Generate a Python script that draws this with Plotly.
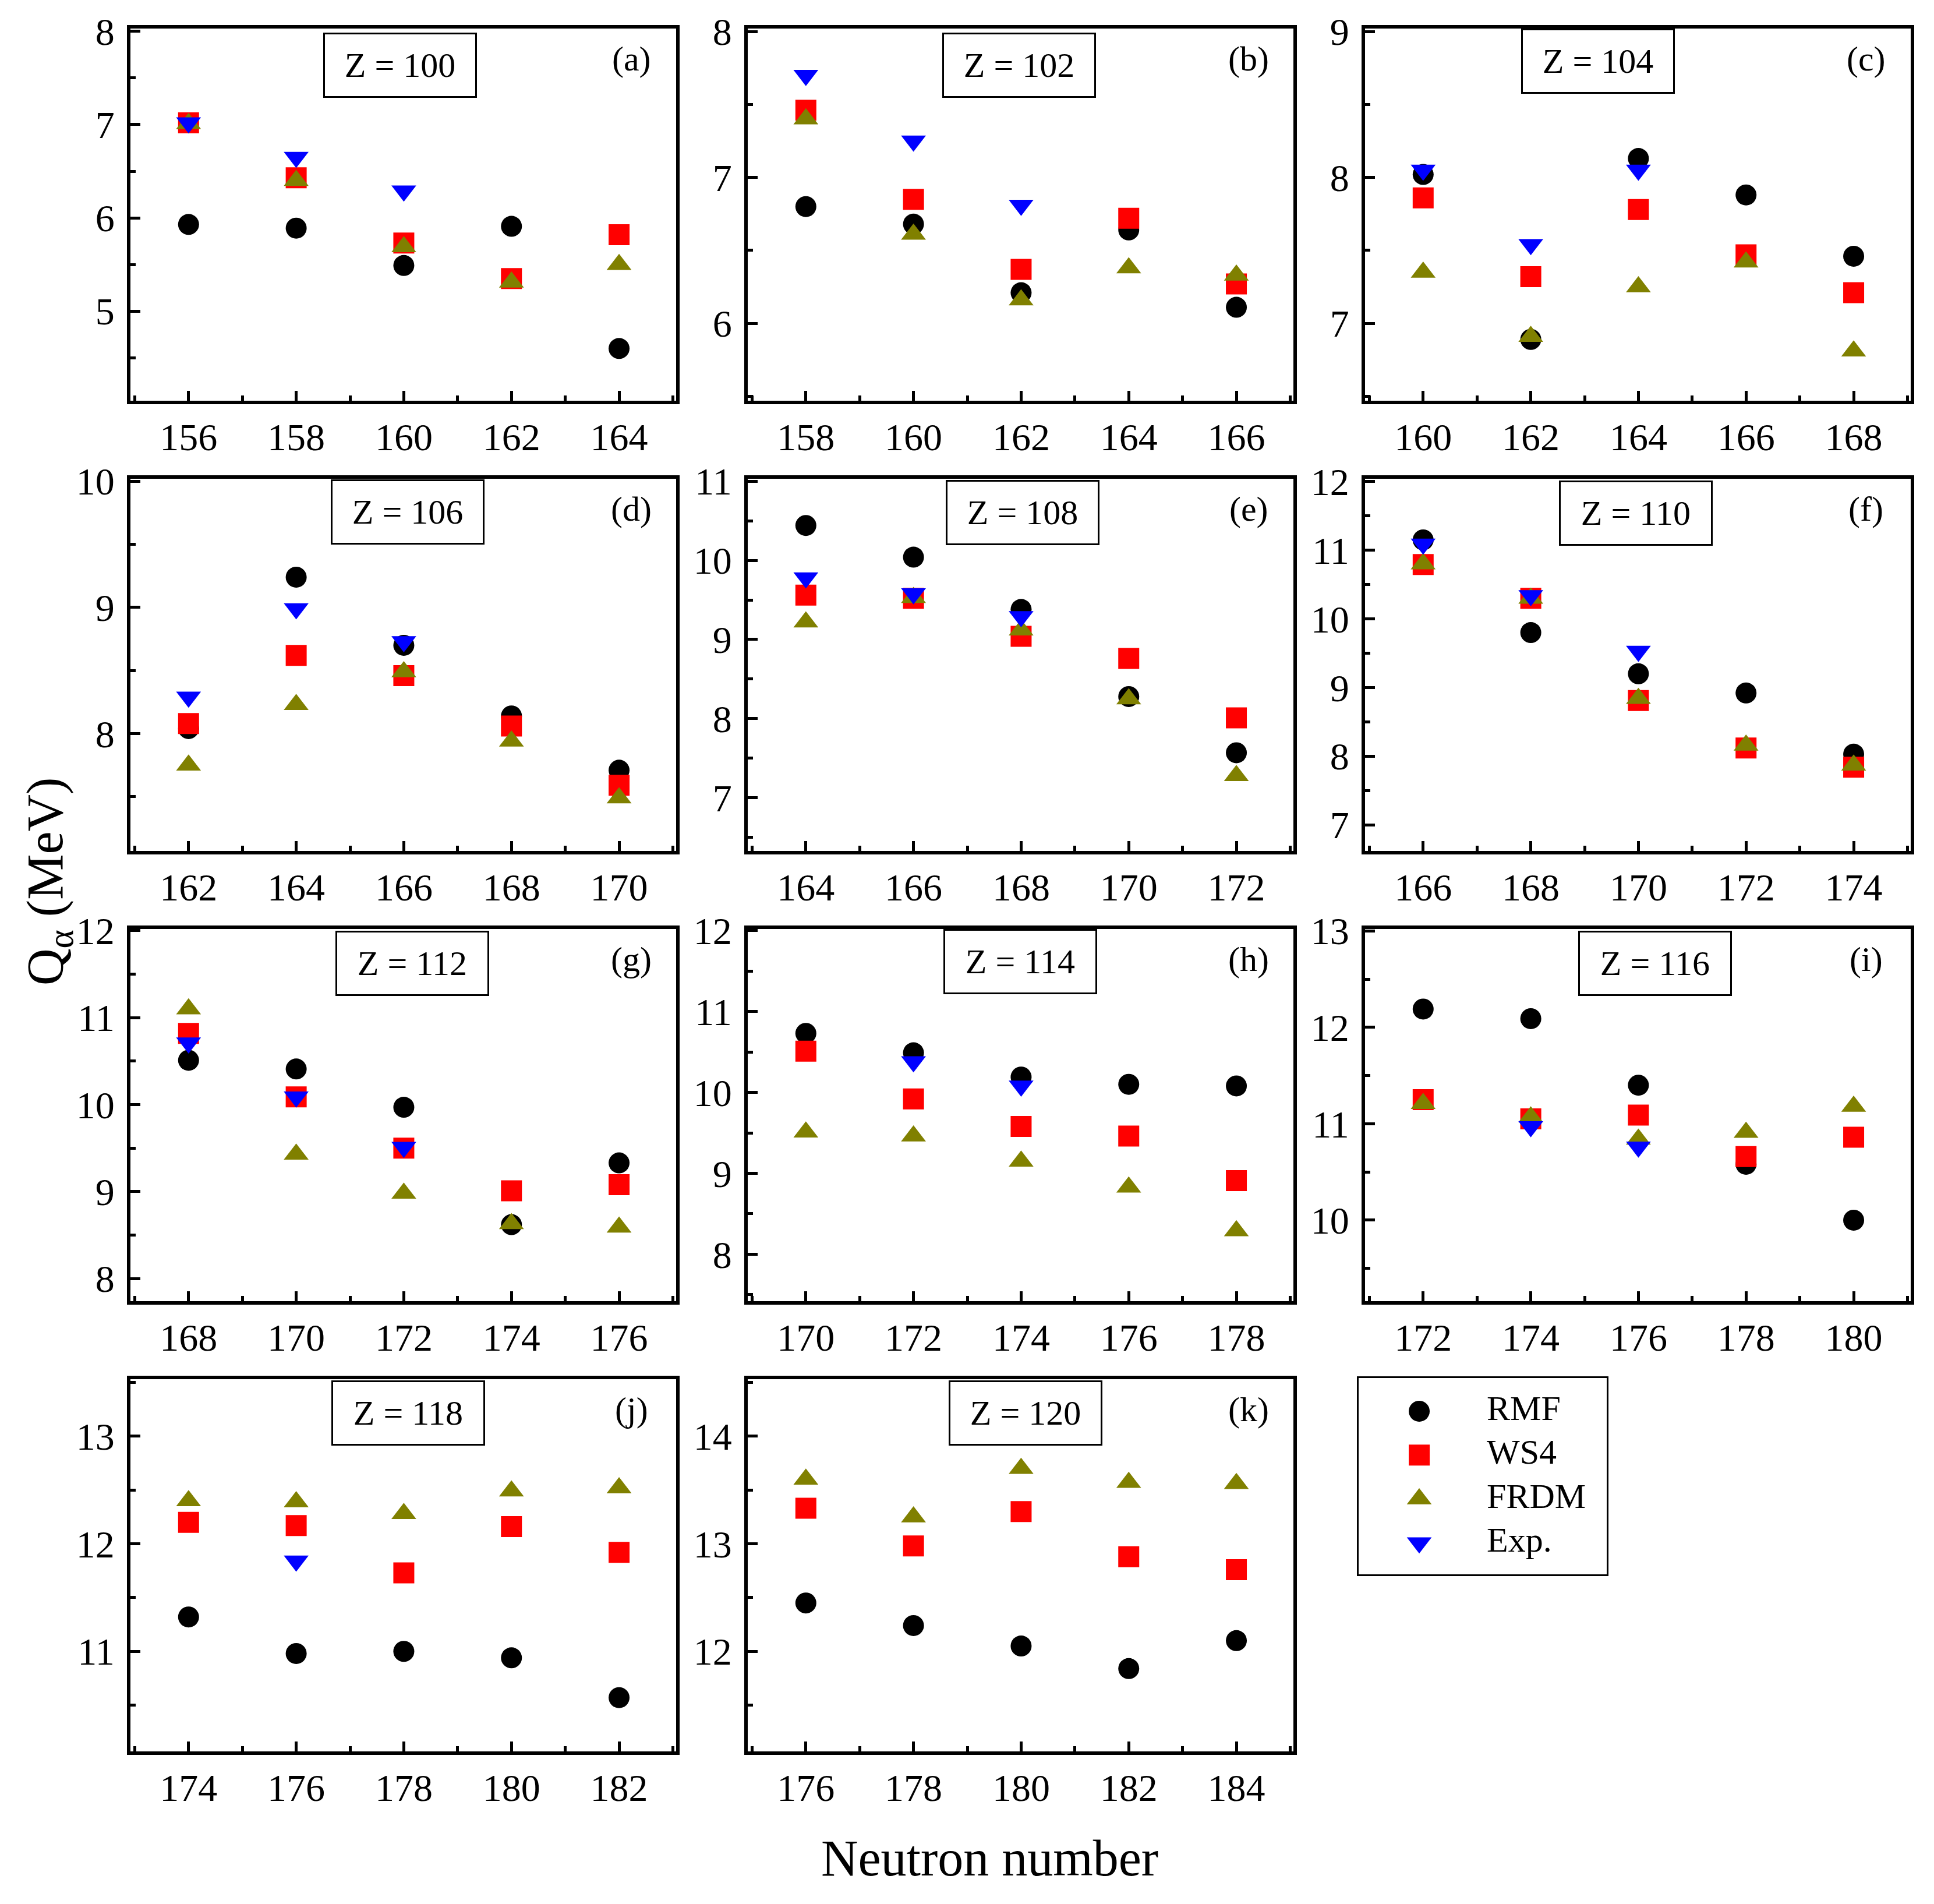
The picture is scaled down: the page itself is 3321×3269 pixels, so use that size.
import plotly.graph_objects as go

FONT = "Liberation Serif"
W, H = 3321, 3269

# ---- data (Q_alpha in MeV) ----
Z_NUMBERS = [100, 102, 104, 106, 108, 110, 112, 114, 116, 118, 120]
PANEL_TAGS = ["(a)", "(b)", "(c)", "(d)", "(e)", "(f)", "(g)", "(h)", "(i)", "(j)", "(k)"]
NEUTRONS = [
    [156, 158, 160, 162, 164],
    [158, 160, 162, 164, 166],
    [160, 162, 164, 166, 168],
    [162, 164, 166, 168, 170],
    [164, 166, 168, 170, 172],
    [166, 168, 170, 172, 174],
    [168, 170, 172, 174, 176],
    [170, 172, 174, 176, 178],
    [172, 174, 176, 178, 180],
    [174, 176, 178, 180, 182],
    [176, 178, 180, 182, 184],
]
RMF = [
    [5.93, 5.89, 5.49, 5.91, 4.60],
    [6.80, 6.68, 6.21, 6.64, 6.11],
    [8.02, 6.89, 8.13, 7.88, 7.46],
    [8.04, 9.24, 8.70, 8.14, 7.71],
    [10.44, 10.04, 9.38, 8.28, 7.57],
    [11.15, 9.80, 9.20, 8.92, 8.03],
    [10.51, 10.41, 9.97, 8.62, 9.33],
    [10.73, 10.49, 10.19, 10.10, 10.08],
    [12.19, 12.09, 11.40, 10.58, 10.00],
    [11.32, 10.98, 11.00, 10.94, 10.57],
    [12.45, 12.24, 12.05, 11.84, 12.10],
]
WS4 = [
    [7.02, 6.43, 5.73, 5.35, 5.82],
    [7.46, 6.85, 6.37, 6.72, 6.27],
    [7.86, 7.32, 7.78, 7.47, 7.21],
    [8.08, 8.62, 8.46, 8.06, 7.59],
    [9.56, 9.52, 9.04, 8.76, 8.01],
    [10.79, 10.30, 8.81, 8.12, 7.84],
    [10.82, 10.09, 9.50, 9.01, 9.08],
    [10.51, 9.92, 9.58, 9.46, 8.91],
    [11.25, 11.05, 11.09, 10.66, 10.86],
    [12.20, 12.17, 11.73, 12.16, 11.92],
    [13.33, 12.98, 13.30, 12.88, 12.76],
]
FRDM = [
    [7.01, 6.40, 5.69, 5.31, 5.50],
    [7.40, 6.61, 6.16, 6.38, 6.33],
    [7.35, 6.91, 7.25, 7.42, 6.81],
    [7.75, 8.23, 8.49, 7.94, 7.49],
    [9.22, 9.53, 9.12, 8.25, 7.28],
    [10.80, 10.30, 8.84, 8.16, 7.87],
    [11.10, 9.43, 8.98, 8.63, 8.59],
    [9.51, 9.46, 9.15, 8.83, 8.29],
    [11.21, 11.07, 10.84, 10.91, 11.18],
    [12.40, 12.39, 12.28, 12.49, 12.52],
    [13.60, 13.25, 13.70, 13.57, 13.56],
]
EXP = [
    [7.02, 6.65, 6.29, None, None],
    [7.70, 7.25, 6.81, None, None],
    [8.05, 7.54, 8.05, None, None],
    [8.29, 8.99, 8.73, None, None],
    [9.78, 9.58, 9.29, None, None],
    [11.09, 10.34, 9.53, None, None],
    [10.71, 10.09, 9.51, None, None],
    [None, 10.38, 10.08, None, None],
    [None, 10.97, 10.76, None, None],
    [None, 11.84, None, None, None],
    [None, None, None, None, None],
]
SERIES_NAMES = ["RMF", "WS4", "FRDM", "Exp."]

# ---- styling / layout ----
SERIES_STYLE = [
    dict(symbol="circle", color="#000000", size=36),
    dict(symbol="square", color="#ff0000", size=36),
    dict(symbol="triangle-up", color="#808000", size=37),
    dict(symbol="triangle-down", color="#0000ff", size=37),
]
Y_RANGES = [
    [4.04, 8.03], [5.47, 8.02], [6.47, 9.02],
    [7.07, 10.02], [6.33, 11.03], [6.62, 12.04],
    [7.74, 12.02], [7.42, 12.02], [9.16, 13.02],
    [10.07, 13.53], [11.07, 14.53],
]
ZBOX_X = [0.494, 0.497, 0.427, 0.508, 0.504, 0.496, 0.517, 0.499, 0.532, 0.509, 0.509]
ZBOX_Y = [0.901, 0.901, 0.913, 0.911, 0.910, 0.907, 0.907, 0.913, 0.907, 0.910, 0.910]

# page body adds an 8px margin, so everything is placed 8px up/left
OFF = 8
COL_LEFT = [221 - OFF, 1281 - OFF, 2341 - OFF]
ROW_TOP = [46 - OFF, 819 - OFF, 1592 - OFF, 2365 - OFF]
PANEL_W, PANEL_H = 943, 645

AXIS_STYLE = dict(
    showline=True, mirror=True, linecolor="black", linewidth=6,
    ticks="inside", ticklen=17, tickwidth=5, tickcolor="black",
    showgrid=False, zeroline=False, automargin=False,
    tickfont=dict(family=FONT, size=66, color="black"),
)

fig = go.Figure()
layout = {}
annotations = []

for i, z in enumerate(Z_NUMBERS):
    n = i + 1
    sfx = "" if n == 1 else str(n)
    row, col = divmod(i, 3)
    left, top = COL_LEFT[col], ROW_TOP[row]
    xdom = [(left + 3) / W, (left + PANEL_W - 3) / W]
    ydom = [1 - (top + PANEL_H - 3) / H, 1 - (top + 3) / H]
    n0 = NEUTRONS[i][0]

    layout["xaxis" + sfx] = dict(
        AXIS_STYLE, domain=xdom, anchor="y" + sfx, range=[n0 - 1.08, n0 + 9.06],
        dtick=2, tick0=0,
        minor=dict(ticks="inside", ticklen=9, tickwidth=5, tickcolor="black", dtick=1, tick0=0),
    )
    layout["yaxis" + sfx] = dict(
        AXIS_STYLE, domain=ydom, anchor="x" + sfx, range=Y_RANGES[i],
        dtick=1, tick0=0, ticklabelstandoff=8,
        minor=dict(ticks="inside", ticklen=9, tickwidth=5, tickcolor="black", dtick=0.5, tick0=0),
    )

    for name, vals, st in zip(SERIES_NAMES, [RMF, WS4, FRDM, EXP], SERIES_STYLE):
        fig.add_trace(go.Scatter(
            x=NEUTRONS[i], y=vals[i], mode="markers", name=name,
            marker=dict(symbol=st["symbol"], color=st["color"], size=st["size"],
                        opacity=1, line=dict(width=0)),
            xaxis="x" + sfx, yaxis="y" + sfx, showlegend=False,
        ))

    annotations.append(dict(
        text=f"Z = {z}", xref=f"x{sfx} domain", yref=f"y{sfx} domain",
        x=ZBOX_X[i], y=ZBOX_Y[i], xanchor="center", yanchor="middle", showarrow=False,
        font=dict(family=FONT, size=60, color="black"),
        bordercolor="black", borderwidth=3, borderpad=0, width=258, height=106,
        bgcolor="white",
    ))
    annotations.append(dict(
        text=PANEL_TAGS[i], xref=f"x{sfx} domain", yref=f"y{sfx} domain",
        x=0.918, y=0.918, xanchor="center", yanchor="middle", showarrow=False,
        font=dict(family=FONT, size=60, color="black"),
    ))

# legend drawn as its own little subplot
LEG_BOX = [2333 - OFF, 2366 - OFF, 2759 - OFF, 2703 - OFF]
layout["xaxis12"] = dict(
    domain=[LEG_BOX[0] / W, LEG_BOX[2] / W], anchor="y12", range=[-0.897, 2.776],
    showline=True, mirror=True, linecolor="black", linewidth=3, automargin=False,
    showticklabels=False, ticks="", showgrid=False, zeroline=False,
)
layout["yaxis12"] = dict(
    domain=[1 - LEG_BOX[3] / H, 1 - LEG_BOX[1] / H], anchor="x12",
    type="category", categoryarray=SERIES_NAMES, range=[3.72, -0.757],
    showline=True, mirror=True, linecolor="black", linewidth=3, automargin=False,
    showticklabels=False, ticks="", showgrid=False, zeroline=False,
)
for name, st in zip(SERIES_NAMES, SERIES_STYLE):
    fig.add_trace(go.Scatter(
        x=[0], y=[name], mode="markers",
        marker=dict(symbol=st["symbol"], color=st["color"], size=st["size"],
                    opacity=1, line=dict(width=0)),
        xaxis="x12", yaxis="y12", showlegend=False,
    ))
fig.add_trace(go.Scatter(
    x=[1] * len(SERIES_NAMES), y=SERIES_NAMES, mode="text", text=SERIES_NAMES,
    textposition="middle right", textfont=dict(family=FONT, size=60, color="black"),
    xaxis="x12", yaxis="y12", showlegend=False,
))

annotations.append(dict(
    text="Neutron number", xref="paper", yref="paper",
    x=(1699 - OFF) / W, y=1 - (3190 - OFF) / H,
    xanchor="center", yanchor="middle",
    showarrow=False, font=dict(family=FONT, size=88, color="black"),
))
annotations.append(dict(
    text="Q<sub>α</sub> (MeV)", xref="paper", yref="paper",
    x=(83 - OFF) / W, y=1 - (1514 - OFF) / H,
    xanchor="center", yanchor="middle",
    textangle=-90, showarrow=False, font=dict(family=FONT, size=88, color="black"),
))

fig.update_layout(
    **layout,
    annotations=annotations,
    width=W, height=H, autosize=False,
    margin=dict(l=0, r=0, t=0, b=0, pad=0, autoexpand=False),
    paper_bgcolor="white", plot_bgcolor="white",
    showlegend=False,
)
fig.write_html("out.html")
